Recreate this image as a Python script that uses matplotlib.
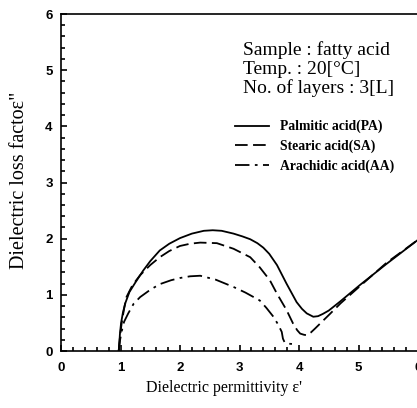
import matplotlib
matplotlib.use("Agg")
import matplotlib.pyplot as plt
from matplotlib.ticker import MultipleLocator

# Data
pa_x = [0.97, 0.98, 0.99, 1.01, 1.04, 1.08, 1.15, 1.25, 1.38, 1.50, 1.66, 1.82, 2.00, 2.20, 2.40, 2.55, 2.70, 2.90, 3.05, 3.18, 3.30, 3.40, 3.50, 3.63, 3.79, 3.96, 4.05, 4.13, 4.24, 4.32, 4.40, 4.50, 4.69, 5.03, 5.47, 6.00]
pa_y = [0.00, 0.12, 0.30, 0.50, 0.68, 0.85, 1.05, 1.22, 1.43, 1.60, 1.79, 1.91, 2.01, 2.09, 2.14, 2.15, 2.14, 2.09, 2.04, 1.99, 1.92, 1.84, 1.73, 1.53, 1.20, 0.87, 0.75, 0.67, 0.61, 0.62, 0.66, 0.72, 0.88, 1.18, 1.55, 1.98]

sa_x = [0.97, 0.99, 1.02, 1.06, 1.10, 1.20, 1.33, 1.50, 1.66, 1.82, 2.00, 2.17, 2.34, 2.62, 2.90, 3.18, 3.34, 3.51, 3.63, 3.79, 3.90, 3.97, 4.02, 4.08, 4.13, 4.20, 4.27, 4.52, 4.70, 5.03, 5.47, 6.00]
sa_y = [0.00, 0.25, 0.50, 0.75, 0.96, 1.17, 1.35, 1.53, 1.67, 1.78, 1.87, 1.91, 1.93, 1.92, 1.82, 1.67, 1.49, 1.26, 1.02, 0.73, 0.49, 0.37, 0.31, 0.29, 0.28, 0.33, 0.40, 0.66, 0.85, 1.16, 1.57, 1.98]

aa_x = [0.97, 0.99, 1.02, 1.06, 1.13, 1.22, 1.33, 1.50, 1.66, 1.85, 2.00, 2.17, 2.34, 2.60, 2.90, 3.10, 3.34, 3.45, 3.57, 3.65, 3.71, 3.73, 3.76, 3.82, 3.96]
aa_y = [0.00, 0.18, 0.35, 0.52, 0.67, 0.84, 0.96, 1.09, 1.19, 1.26, 1.30, 1.33, 1.34, 1.27, 1.14, 1.04, 0.90, 0.77, 0.61, 0.47, 0.34, 0.22, 0.15, 0.13, 0.12]

labels = ["Palmitic acid(PA)", "Stearic acid(SA)", "Arachidic acid(AA)"]
info_lines = ["Sample : fatty acid", "Temp. : 20[°C]", "No. of layers : 3[L]"]

W, H = 417, 408
fig = plt.figure(figsize=(W / 100, H / 100), dpi=100)
ax = fig.add_axes([61 / W, 1 - 351 / H, 357 / W, 337 / H])

lw = 1.3
ax.plot(pa_x, pa_y, color="black", lw=lw, label=labels[0])
ax.plot(sa_x, sa_y, color="black", lw=lw, dashes=(7, 3), label=labels[1])
ax.plot(aa_x, aa_y, color="black", lw=lw, dashes=(8, 3, 1.5, 3), label=labels[2])

ax.set_xlim(0, 6)
ax.set_ylim(0, 6)
ax.xaxis.set_major_locator(MultipleLocator(1))
ax.xaxis.set_minor_locator(MultipleLocator(0.2))
ax.yaxis.set_major_locator(MultipleLocator(1))
ax.yaxis.set_minor_locator(MultipleLocator(0.2))
ax.tick_params(which="both", direction="in", top=False, right=False, width=1.2)
ax.tick_params(which="major", length=4.5)
ax.tick_params(which="minor", length=2.8)
ax.tick_params(axis="x", which="major", pad=8)
ax.tick_params(axis="y", which="major", pad=6)
for lab in ax.get_xticklabels() + ax.get_yticklabels():
    lab.set_fontfamily("Liberation Sans")
    lab.set_fontweight("bold")
    lab.set_fontsize(9.5)
for sp in ax.spines.values():
    sp.set_linewidth(1.2)

ax.set_xlabel("Dielectric permittivity ε'", fontfamily="Liberation Serif", fontsize=11.5, va="center")
ax.xaxis.set_label_coords((224 - 61) / 357, -(388 - 351) / 337)
ax.set_ylabel("Dielectric loss factoε\"", fontfamily="Liberation Serif", fontsize=14.5, va="center")
ax.yaxis.set_label_coords(-(61 - 20) / 357, (351 - 180) / 337)

for i, t in enumerate(info_lines):
    fig.text(243 / W, 1 - (50 + 19 * i) / H, t, fontfamily="Liberation Serif", fontsize=14, va="center", ha="left")

ax.legend(loc="upper left", bbox_to_anchor=(235 / W, 1 - 120 / H), bbox_transform=fig.transFigure,
          frameon=False, borderpad=0, borderaxespad=0, handlelength=2.5, handletextpad=0.8,
          labelspacing=0.45, prop={"family": "Liberation Serif", "weight": "bold", "size": 9.8})

fig.savefig("out.png", dpi=100)
